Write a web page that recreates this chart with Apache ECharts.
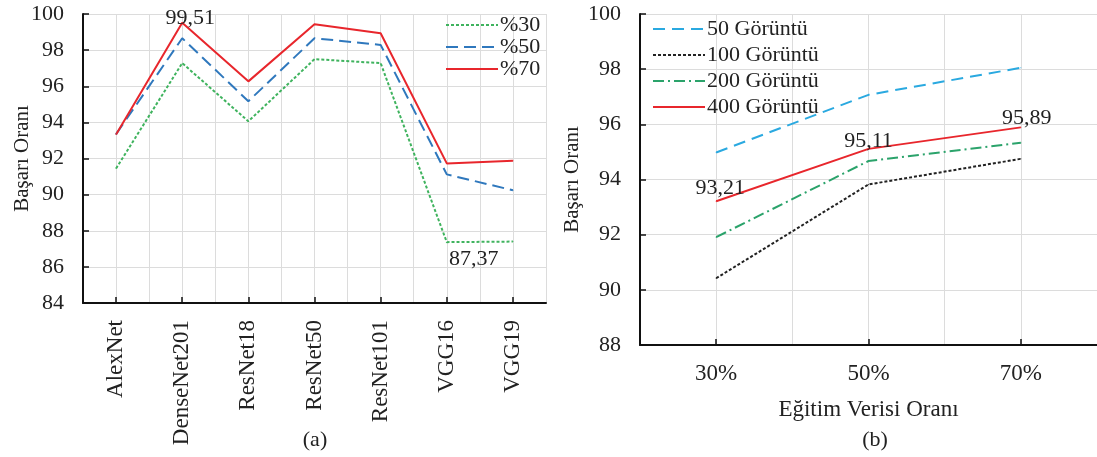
<!DOCTYPE html>
<html>
<head>
<meta charset="utf-8">
<script src="https://cdn.jsdelivr.net/npm/echarts@6/dist/echarts.min.js"></script>
<style>
  html, body { margin: 0; padding: 0; background: #fff; }
  #main { width: 1097px; height: 457px; }
</style>
</head>
<body>
<div id="main"></div>
<script>
// (a) modeller
var modelNames = ['AlexNet', 'DenseNet201', 'ResNet18', 'ResNet50', 'ResNet101', 'VGG16', 'VGG19'];
var oran30 = [91.45, 97.28, 94.06, 97.5, 97.28, 87.37, 87.4];
var oran50 = [93.35, 98.66, 95.17, 98.66, 98.29, 91.12, 90.24];
var oran70 = [93.33, 99.51, 96.27, 99.43, 98.93, 91.73, 91.88];

// (b) egitim verisi
var egitimOrani = ['30%', '50%', '70%'];
var goruntu50 = [94.98, 97.07, 98.05];
var goruntu100 = [90.42, 93.82, 94.75];
var goruntu200 = [91.91, 94.67, 95.33];
var goruntu400 = [93.21, 95.11, 95.89];

var FONT = "'Liberation Serif', 'Times New Roman', serif";
var TXT = '#222';

var chart = echarts.init(document.getElementById('main'));

function lbl(pos, off) {
  return {
    show: true, position: pos, offset: off,
    fontFamily: FONT, fontSize: 22, color: TXT,
    formatter: function (p) { return String(p.value).replace('.', ','); }
  };
}

// etiketli noktalar
function withLabels(vals, labels) {
  return vals.map(function (v, i) {
    return labels[i] ? { value: v, label: labels[i] } : v;
  });
}

function line(name, xi, color, type, vals) {
  return {
    name: name, type: 'line', xAxisIndex: xi, yAxisIndex: xi,
    symbol: 'circle', symbolSize: 1, showSymbol: true,
    lineStyle: { color: color, width: 2, type: type || 'solid' },
    itemStyle: { color: color },
    label: { show: false },
    data: vals
  };
}

var yAxisBase = {
  type: 'value',
  interval: 2,
  axisLine: { show: true, lineStyle: { color: '#111', width: 2 } },
  axisTick: { show: true, inside: true, length: 6, lineStyle: { color: '#111', width: 1.5 } },
  axisLabel: { fontFamily: FONT, fontSize: 22, color: TXT, margin: 19 },
  splitLine: { show: true, lineStyle: { color: '#dcdcdc', width: 1 } },
  name: 'Başarı Oranı',
  nameLocation: 'middle',
  nameRotate: 90,
  nameMoveOverlap: false,
  nameTextStyle: { fontFamily: FONT, fontSize: 21, color: TXT }
};

function gridX(idx, max) {
  // sadece dikey izgara cizgileri icin
  return {
    type: 'value', gridIndex: idx, min: 0, max: max, interval: 0.5,
    axisLine: { show: false }, axisTick: { show: false }, axisLabel: { show: false },
    splitLine: { show: true, lineStyle: { color: '#dcdcdc', width: 1 } }
  };
}

var legendBase = {
  orient: 'vertical',
  itemWidth: 52, itemHeight: 14,
  itemStyle: { opacity: 0 },
  textStyle: { fontFamily: FONT, fontSize: 22, color: TXT, padding: [0, 0, 0, -3] }
};

var option = {
  backgroundColor: '#fff',
  animation: false,
  title: [
    { text: '(a)', left: 310, top: 424, textAlign: 'center',
      textStyle: { fontFamily: FONT, fontSize: 22, fontWeight: 'normal', color: TXT } },
    { text: '(b)', left: 870, top: 424, textAlign: 'center',
      textStyle: { fontFamily: FONT, fontSize: 22, fontWeight: 'normal', color: TXT } }
  ],
  grid: [
    { left: 83, top: 14, width: 463, height: 289 },
    { left: 640, top: 14, width: 457, height: 331 }
  ],
  legend: [
    Object.assign({}, legendBase, {
      data: ['%30', '%50', '%70'],
      left: 440, top: 9, itemGap: 0
    }),
    Object.assign({}, legendBase, {
      data: ['50 Görüntü', '100 Görüntü', '200 Görüntü', '400 Görüntü'],
      left: 647, top: 13, itemGap: 4
    })
  ],
  xAxis: [
    {
      type: 'category', gridIndex: 0, data: modelNames, boundaryGap: true,
      axisLine: { lineStyle: { color: '#111', width: 2 } },
      axisTick: { show: true, inside: true, alignWithLabel: true, length: 6, lineStyle: { color: '#111', width: 1.5 } },
      axisLabel: { rotate: 90, fontFamily: FONT, fontSize: 23, color: TXT, margin: 17 },
      splitLine: { show: false }
    },
    {
      type: 'category', gridIndex: 1, data: egitimOrani, boundaryGap: true,
      axisLine: { lineStyle: { color: '#111', width: 2 } },
      axisTick: { show: true, inside: true, alignWithLabel: true, length: 6, lineStyle: { color: '#111', width: 1.5 } },
      axisLabel: { fontFamily: FONT, fontSize: 23, color: TXT, margin: 17 },
      splitLine: { show: false },
      name: 'Eğitim Verisi Oranı', nameLocation: 'middle', nameGap: 53,
      nameMoveOverlap: false,
      nameTextStyle: { fontFamily: FONT, fontSize: 23, color: TXT }
    },
    gridX(0, 7),
    gridX(1, 3)
  ],
  yAxis: [
    Object.assign({}, yAxisBase, { gridIndex: 0, min: 84, max: 100, nameGap: 50 }),
    Object.assign({}, yAxisBase, { gridIndex: 1, min: 88, max: 100, nameGap: 57 })
  ],
  series: [
    line('%30', 0, '#3fb35e', [3, 2], withLabels(oran30, { 5: lbl('bottom', [27, 1]) })),
    line('%50', 0, '#2f78bd', [12, 6], oran50),
    line('%70', 0, '#e8262c', 'solid', withLabels(oran70, { 1: lbl('top', [8, 12]) })),
    line('50 Görüntü', 1, '#2aa9e0', [12, 7], goruntu50),
    line('100 Görüntü', 1, '#222222', [3, 2], goruntu100),
    line('200 Görüntü', 1, '#2ba36b', [11, 4, 2, 4], goruntu200),
    line('400 Görüntü', 1, '#e8262c', 'solid', withLabels(goruntu400, {
      0: lbl('top', [4, 3]),
      1: lbl('top', [0, 9]),
      2: lbl('top', [6, 7])
    }))
  ]
};

chart.setOption(option);
</script>
</body>
</html>
